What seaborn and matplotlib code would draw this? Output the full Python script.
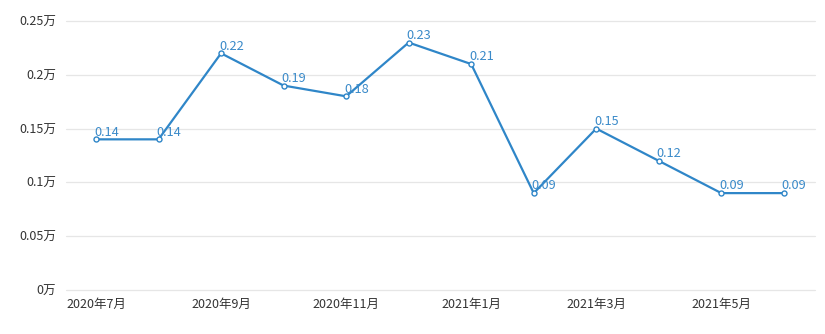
import matplotlib
matplotlib.use("Agg")
import matplotlib.pyplot as plt
import seaborn as sns
import pandas as pd

months = ["2020年7月", "2020年8月", "2020年9月", "2020年10月", "2020年11月", "2020年12月",
          "2021年1月", "2021年2月", "2021年3月", "2021年4月", "2021年5月", "2021年6月"]
values = [0.14, 0.14, 0.22, 0.19, 0.18, 0.23, 0.21, 0.09, 0.15, 0.12, 0.09, 0.09]
y_ticks = [0, 0.05, 0.1, 0.15, 0.2, 0.25]
y_tick_labels = ["0万", "0.05万", "0.1万", "0.15万", "0.2万", "0.25万"]

sns.set_theme(style="white")
plt.rcParams['font.family'] = ['Noto Sans CJK SC', 'DejaVu Sans']

df = pd.DataFrame({"idx": range(len(months)), "month": months, "value": values})

fig = plt.figure(figsize=(8.25, 3.34), dpi=100)
ax = fig.add_axes([0.08, 0.132, 0.908, 0.805])

color = "#2f86c8"
sns.lineplot(data=df, x="idx", y="value", ax=ax, color=color, linewidth=1.6,
             marker="o", markersize=3.6, markerfacecolor="white",
             markeredgecolor=color, markeredgewidth=1.0, zorder=3)

for i, v in zip(df["idx"], df["value"]):
    ax.annotate(f"{v:g}", (i, v), xytext=(-1.5, 0.5), textcoords="offset points",
                ha="left", va="bottom", fontsize=9.2, color="#3a8ac9", zorder=4)

ax.set_xlim(-0.48, 11.5)
ax.set_ylim(0, 0.25)
ax.set_yticks(y_ticks)
ax.set_yticklabels(y_tick_labels)
ax.set_xticks(list(range(0, 12, 2)))
ax.set_xticklabels([months[i] for i in range(0, 12, 2)])
ax.tick_params(axis="both", length=0, labelsize=9, colors="#333333")
ax.tick_params(axis="y", pad=7)
ax.tick_params(axis="x", pad=6)
ax.grid(axis="y", color="#e6e6e6", linewidth=0.9)
for gl in ax.get_ygridlines():
    gl.set_clip_on(False)
ax.set_axisbelow(True)
for s in ax.spines.values():
    s.set_visible(False)
ax.set_xlabel("")
ax.set_ylabel("")

fig.savefig("out.png", dpi=100)
